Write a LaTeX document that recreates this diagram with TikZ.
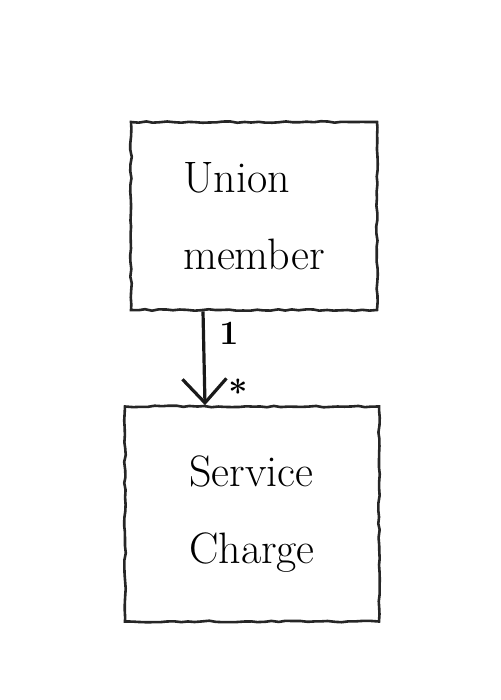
\documentclass[tikz,border=0pt]{standalone}
\usetikzlibrary{arrows.meta,decorations.pathmorphing}
\begin{document}
\begin{tikzpicture}[x=1pt,y=-1pt,
  sketch/.style={draw=black!85, line width=2.6pt, decorate,
    decoration={random steps,segment length=7pt,amplitude=0.8pt}},
  umlbox/.style={sketch, rectangle, inner sep=0pt, align=left,
    font=\fontsize{44}{83}\selectfont},
  lbl/.style={font=\bfseries\fontsize{34}{36}\selectfont}]
\useasboundingbox (0,0) rectangle (500,700);
\node[umlbox, minimum width=246pt, minimum height=188pt] (a) at (254,216) {Union\\[-6pt]member};
\node[umlbox, minimum width=254pt, minimum height=215pt] (b) at (252,514) {Service\\[-6pt]Charge};
\coordinate (s) at (203,310);
\coordinate (t) at (205,403);
\draw[line width=3.2pt, draw=black!90, -{Straight Barb[length=24pt,width=44pt,line width=3.2pt]}] (a.south -| s) -- (b.north -| t);
\node[lbl] (one) at (229,333) {1};
\node[lbl] (many) at (238,392) {*};
\end{tikzpicture}
\end{document}
